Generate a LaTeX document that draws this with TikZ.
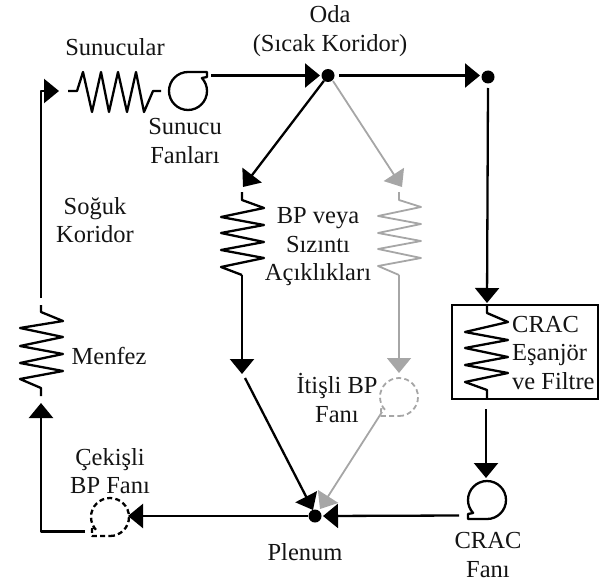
\documentclass[tikz,border=0pt]{standalone}
\usepackage{fontspec}
\setmainfont{Liberation Serif}
\usetikzlibrary{arrows.meta}
\definecolor{flowgray}{HTML}{A6A6A6}
\tikzset{
  lbl/.style={inner sep=0pt,align=center,font=\fontsize{24.5}{28.5}\selectfont,text=black!92},
  lblL/.style={lbl,align=left},
  wire/.style={line width=2.3pt,draw=black,line join=round},
  wireG/.style={line width=1.8pt,draw=flowgray,line join=round},
  flow/.style={wire,-{Triangle[length=15pt,width=24pt]}},
  flowG/.style={wireG,-{Triangle[length=15pt,width=24pt,color=flowgray]}},
  fandash/.style={dash pattern=on 5pt off 3.2pt},
  junction/.style={circle,fill=black,draw=none,minimum size=13pt,inner sep=0pt},
  holder/.style={draw=none,inner sep=0pt,minimum size=38pt,circle},
}
\begin{document}
\begin{tikzpicture}[x=1pt,y=-1pt]
\useasboundingbox (0,0) rectangle (609,583);
% junctions
\node[junction] (room) at (328,75.5) {};
\node[junction] (roomR) at (488,77) {};
\node[junction] (plenum) at (315,516) {};
% component holders
\node[holder] (srvfan) at (188,91) {};
\node[holder] (cracfan) at (487,500) {};
\node[holder] (pullfan) at (110,517) {};
\node[holder] (pushfan) at (399,397) {};
\node[draw,line width=1.8pt,minimum width=146pt,minimum height=94pt,inner sep=0pt] (cracbox) at (525,352) {};
% free connector ends
\coordinate (srvIn) at (59,91);
\coordinate (coldA) at (41,298);
\coordinate (ventIn) at (41,403);
\coordinate (pullOut) at (85,531.5);
\coordinate (pullIn) at (128,516);
\coordinate (srvOut) at (211,75.5);
\coordinate (bpTip) at (243,187);
\coordinate (bpOut) at (242,275);
\coordinate (bpEnd) at (242,374);
\coordinate (bpStart) at (245,378);
\coordinate (plTipK) at (313,510);
\coordinate (grTip) at (402,187);
\coordinate (grOut) at (399,275);
\coordinate (grEnd) at (399,373);
\coordinate (pushOut) at (382,412);
\coordinate (plTipG) at (320,509);
\coordinate (roomTip) at (320,75.5);
\coordinate (roomE) at (339,75.5);
\coordinate (roomRTip) at (480,75.5);
\coordinate (roomRDown) at (488,88);
\coordinate (roomSE) at (333,81);
\coordinate (boxTip) at (487,303);
\coordinate (boxOut) at (486,409);
\coordinate (fanTip) at (486,478);
\coordinate (cracOut) at (459,515.5);
\coordinate (plTipR) at (323,516);
% coils
\draw[wire] (68,91) -- (77,91) -- (83,72) -- (92,112) -- (101,72) -- (109,112) -- (118,72) -- (127,112) -- (136,72) -- (144,112) -- (153,91) -- (161,91);
\draw[wire] (242,192) -- (242,200) -- (264,208) -- (221,217) -- (264,225) -- (221,233) -- (264,242) -- (221,250) -- (264,258) -- (221,267) -- (242,275);
\draw[wireG] (399,192) -- (399,200) -- (421,207) -- (378,216) -- (421,224) -- (378,233) -- (421,241) -- (378,249) -- (421,258) -- (378,266) -- (399,275);
\draw[wire] (487,305) -- (487,313) -- (508,322) -- (465,332) -- (508,340) -- (465,348) -- (508,357) -- (465,365) -- (508,373) -- (465,382) -- (487,390) -- (487,399);
\draw[wire] (41,305) -- (41,312) -- (63,321) -- (20,328) -- (63,337) -- (20,346) -- (63,354) -- (20,363) -- (63,371) -- (20,379) -- (41,388) -- (41,396);
% fans
\draw[wire] (188,72) arc[start angle=-90,end angle=-403,radius=19] -- (207,77) -- (207,72) -- cycle;
\draw[wire] (487,519) arc[start angle=90,end angle=-223,radius=19] -- (468,514) -- (468,519) -- cycle;
\draw[wire,fandash] (110,536) arc[start angle=90,end angle=-223,radius=19] -- (92,529) -- (92,536) -- cycle;
\draw[wireG,fandash] (399,416) arc[start angle=90,end angle=-223,radius=19] -- (381,409) -- (381,416) -- cycle;
% connectors
\draw[flow] (srvOut) -- (roomTip);
\draw[flow] (roomE) -- (roomRTip);
\draw[flow] (roomRDown) -- (boxTip);
\draw[flow] (room) -- (bpTip);
\draw[flowG] (roomSE) -- (grTip);
\draw[flow] (bpOut) -- (bpEnd);
\draw[flowG] (grOut) -- (grEnd);
\draw[flow] (bpStart) -- (plTipK);
\draw[flowG] (pushOut) -- (plTipG);
\draw[flow] (boxOut) -- (fanTip);
\draw[flow] (cracOut) -- (plTipR);
\draw[flow] (plenum) -- (pullIn);
\draw[flow] (pullOut) -- (41,531.5) -- (ventIn);
\draw[flow] (coldA) -- (41,91) -- (srvIn);
% labels
\node[lbl] (tOda) at (330,31) {Oda\\(Sıcak Koridor)};
\node[lbl] (tSrv) at (115,47) {Sunucular};
\node[lbl] (tSrvFan) at (185,141) {Sunucu\\Fanları};
\node[lbl] (tCold) at (95,220) {Soğuk\\Koridor};
\node[lbl] (tBP) at (318,247) {BP veya\\Sızıntı\\Açıklıkları};
\node[lbl] (tVent) at (109,356) {Menfez};
\node[lbl] (tPull) at (110,471) {Çekişli\\BP Fanı};
\node[lbl] (tPlen) at (305,552) {Plenum};
\node[lbl] (tPush) at (337,398) {İtişli BP\\Fanı};
\node[lbl] (tCracFan) at (488,555) {CRAC\\Fanı};
\node[lblL,anchor=west] (tCrac) at (512,353) {CRAC\\Eşanjör\\ve Filtre};
\end{tikzpicture}
\end{document}
